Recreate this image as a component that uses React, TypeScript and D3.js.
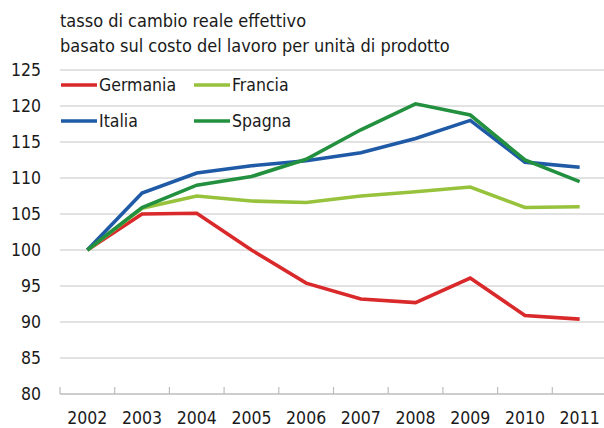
import React from "react";
import * as d3 from "d3";

const years = ["2002","2003","2004","2005","2006","2007","2008","2009","2010","2011"];
const germania = [100, 105.0, 105.1, 100.0, 95.4, 93.2, 92.7, 96.1, 90.9, 90.4];
const francia = [100, 105.8, 107.5, 106.8, 106.6, 107.5, 108.1, 108.75, 105.9, 106.0];
const italia = [100, 107.9, 110.7, 111.7, 112.4, 113.5, 115.5, 118.0, 112.2, 111.5];
const spagna = [100, 105.9, 109.0, 110.2, 112.6, 116.7, 120.3, 118.75, 112.5, 109.5];
const yTicks = [80, 85, 90, 95, 100, 105, 110, 115, 120, 125];
const seriesNames = ["Germania", "Francia", "Italia", "Spagna"];
const seriesColors = ["#d9292b", "#97c23c", "#1f5aa6", "#22903f"];
const titleLines = ["tasso di cambio reale effettivo", "basato sul costo del lavoro per unità di prodotto"];

const W = 604, H = 428;
const FONT = "'Liberation Sans Narrow', 'DejaVu Sans Condensed', 'Roboto Condensed', sans-serif";

export default function App() {
  const series = [germania, francia, italia, spagna];
  const x = d3.scaleBand<string>().domain(years).range([60, 607]);
  const y = d3.scaleLinear().domain([80, 125]).range([394, 70]);
  const line = d3.line<number>()
    .x((_, i) => (x(years[i]) as number) + x.bandwidth() / 2)
    .y((d) => y(d));
  const legendPos = [
    { x: 61, y: 85 }, { x: 194, y: 85 }, { x: 61, y: 121 }, { x: 194, y: 121 },
  ];
  return (
    <svg width={W} height={H} style={{ position: "absolute", left: 0, top: 0, background: "#fff" }} fontFamily={FONT}>
      {titleLines.map((t, i) => (
        <text key={i} x={60} y={27 + i * 25} fontSize={18} fill="#1a1a1a">{t}</text>
      ))}
      {yTicks.map((v) => (
        <g key={v}>
          {v !== 80 && <line x1={60} x2={604} y1={y(v)} y2={y(v)} stroke="#c6c6c6" strokeWidth={1.2} />}
          <text x={41} y={y(v) + 6} fontSize={17.5} textAnchor="end" fill="#1a1a1a">{v}</text>
        </g>
      ))}
      <line x1={60} x2={604} y1={y(80)} y2={y(80)} stroke="#bdbdbd" strokeWidth={1.5} />
      {years.map((yr) => (
        <line key={"t" + yr} x1={x(yr) as number} x2={x(yr) as number} y1={y(80) - 7} y2={y(80)} stroke="#bdbdbd" strokeWidth={1.2} />
      ))}
      {years.map((yr) => (
        <text key={yr} x={(x(yr) as number) + x.bandwidth() / 2} y={424} fontSize={17.5} textAnchor="middle" fill="#1a1a1a">{yr}</text>
      ))}
      {series.map((s, i) => (
        <path key={i} d={line(s) as string} fill="none" stroke={seriesColors[i]} strokeWidth={3.6} strokeLinejoin="miter" />
      ))}
      {seriesNames.map((n, i) => (
        <g key={n}>
          <line x1={legendPos[i].x} x2={legendPos[i].x + 36} y1={legendPos[i].y} y2={legendPos[i].y} stroke={seriesColors[i]} strokeWidth={3.6} />
          <text x={legendPos[i].x + 38} y={legendPos[i].y + 6} fontSize={17.5} fill="#1a1a1a">{n}</text>
        </g>
      ))}
    </svg>
  );
}
